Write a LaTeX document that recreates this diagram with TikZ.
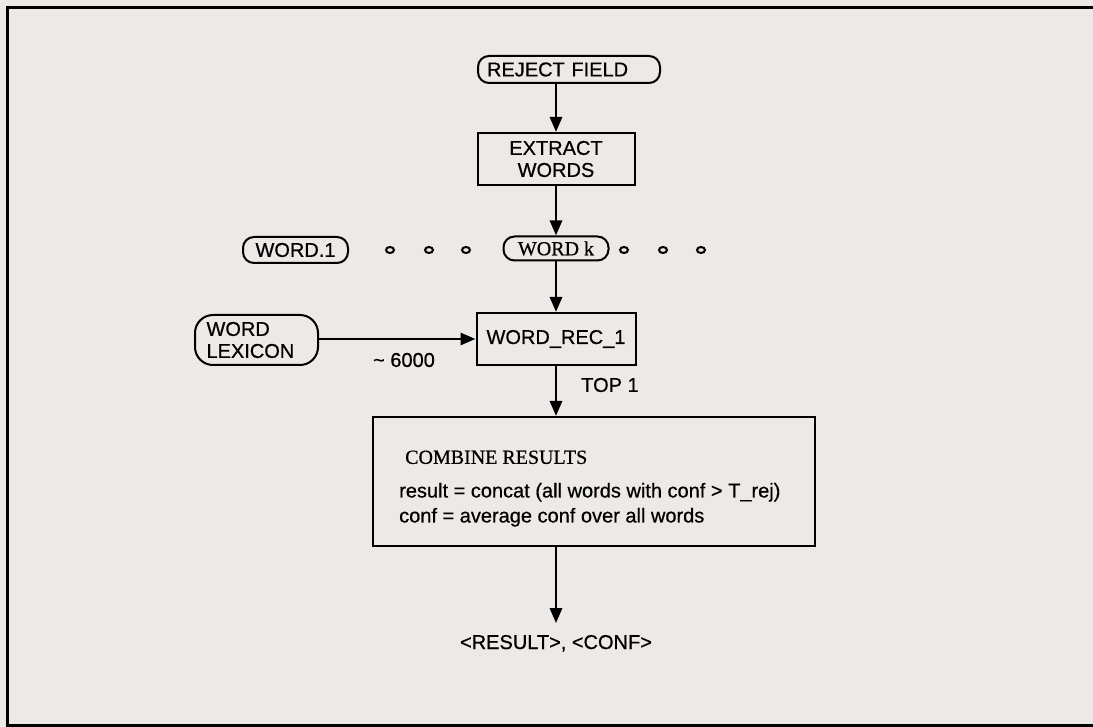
\documentclass[tikz,border=0pt]{standalone}
\usepackage{fontspec}
\setmainfont{Liberation Sans}[FakeBold=0.6]
\newfontfamily\timesfont{Liberation Serif}[FakeBold=0.6]
\usepackage{tikz}
\usetikzlibrary{arrows.meta, positioning, shapes.geometric, shapes}

\definecolor{paper}{RGB}{236,233,230}

\tikzset{
  box/.style={draw, line width=2pt, inner sep=0pt, align=center},
  term/.style={draw, line width=2pt, rounded corners=11pt, inner sep=0pt},
  dot/.style={draw, ellipse, line width=2pt, minimum width=8pt, minimum height=6pt, inner sep=0pt},
  flow/.style={line width=2.8pt, -{Triangle[length=15pt,width=12pt]}},
}

\begin{document}
\fontsize{20}{22}\selectfont
\begin{tikzpicture}[x=1pt, y=-1pt]
\useasboundingbox[fill=paper] (0,0) rectangle (1093,727);

% frame
\draw[line width=3pt] (1100,8) -- (7,8) -- (7,725) -- (1100,725);

% nodes
\node[term, minimum width=182pt, minimum height=27pt, text width=164pt, align=left] (reject) at (569,69.5) {REJECT FIELD};
\node[box, minimum width=157pt, minimum height=52pt] (extract) at (556,159) {EXTRACT\\WORDS};

\node[term, minimum width=105pt, minimum height=26pt] (word1) at (295.5,250) {WORD.1};
\node[term, minimum width=105pt, minimum height=24pt, font=\timesfont] (wordk) at (556,248.5) {WORD k};
\foreach \i/\x in {1/390, 2/429, 3/466, 4/624, 5/663, 6/701}
  \node[dot] (dot\i) at (\x,250) {};

\node[term, rounded corners=18pt, minimum width=123pt, minimum height=50pt, text width=100pt, align=left] (lexicon) at (256.5,340) {WORD\\LEXICON};
\node[box, minimum width=159pt, minimum height=52pt] (rec) at (556,339) {WORD\_REC\_1};

\node (approx) at (404,360) {\textasciitilde\ 6000};
\node (top) at (610,385) {TOP 1};

\node[box, minimum width=442pt, minimum height=129pt] (combine) at (594,481.5) {};
\node[anchor=north west, align=left, inner sep=0pt] (combinetext) at (399,450.4)
  {\hspace*{6pt}{\timesfont COMBINE RESULTS}\\[11.6pt]
   result = concat (all words with conf \textgreater\ T\_rej)\\[3pt]
   conf = average conf over all words};

\node[anchor=base, inner ysep=11.7pt] (result) at (556,649) {\textless RESULT\textgreater, \textless CONF\textgreater};

% arrows
\draw[flow] (reject.south -| extract) -- (extract.north);
\draw[flow] (extract.south) -- (wordk.north);
\draw[flow] (wordk.south) -- (rec.north);
\draw[flow] (lexicon.east |- rec.west) -- (rec.west);
\draw[flow] (rec.south) -- (rec.south |- combine.north);
\draw[flow] (combine.south -| result) -- (result.north);

\end{tikzpicture}
\end{document}
